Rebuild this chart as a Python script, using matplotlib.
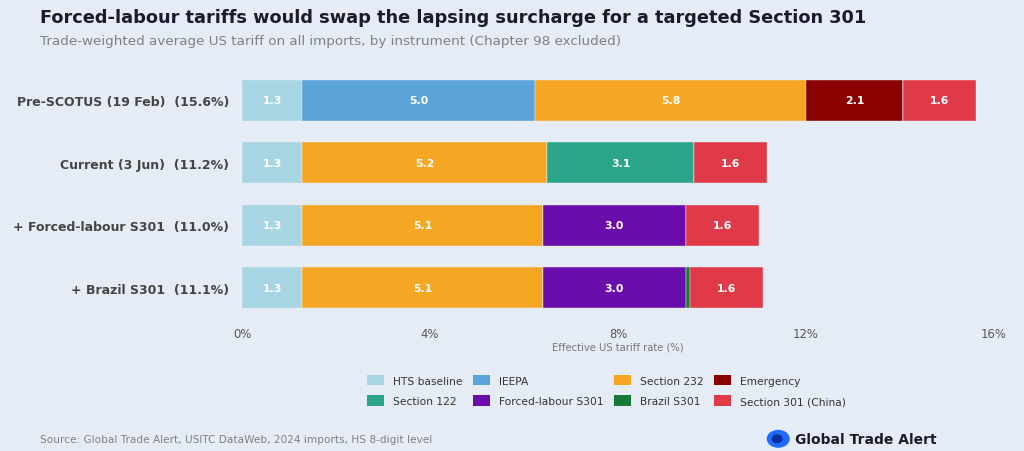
import matplotlib.pyplot as plt
from matplotlib.patches import Patch, Ellipse

plt.rcParams['font.family'] = ['DejaVu Sans']

# --- datos (puntos porcentuales) ---
escenarios = ['Pre-SCOTUS (19 Feb)', 'Current (3 Jun)', '+ Forced-labour S301', '+ Brazil S301']
hts = [1.28, 1.28, 1.28, 1.28]
ieepa = [4.96, 0, 0, 0]
s232 = [5.76, 5.22, 5.12, 5.12]
emergency = [2.06, 0, 0, 0]
s122 = [0, 3.12, 0, 0]
forced = [0, 0, 3.04, 3.04]
brazil = [0, 0, 0, 0.09]
s301 = [1.56, 1.56, 1.56, 1.56]

series = [
    ('HTS baseline', hts, '#A8D5E3'),
    ('IEEPA', ieepa, '#5BA4DA'),
    ('Section 232', s232, '#F5A623'),
    ('Emergency', emergency, '#8B0000'),
    ('Section 122', s122, '#2AA58A'),
    ('Forced-labour S301', forced, '#6A0DAD'),
    ('Brazil S301', brazil, '#167A36'),
    ('Section 301 (China)', s301, '#E03A49'),
]
xticks = [0, 4, 8, 12, 16]

fondo = '#E6ECF5'
fig = plt.figure(figsize=(10.24, 4.52), dpi=100, facecolor=fondo)
ax = fig.add_axes([0.2363, 0.292, 0.7344, 0.553], facecolor=fondo)

y = list(range(len(escenarios)))
left = [0.0] * len(escenarios)
for nombre, vals, color in series:
    ax.barh(y, vals, left=left, height=0.65, color=color, edgecolor=fondo, linewidth=0.3)
    for i, v in enumerate(vals):
        if v >= 0.5:
            ax.text(left[i] + v / 2, i, f"{v:.1f}", ha='center', va='center',
                    color='white', fontsize=7.8, fontweight='bold')
    left = [l + v for l, v in zip(left, vals)]

totales = left
ax.set_yticks(y)
ax.set_yticklabels([f"{e}  ({t:.1f}%)" for e, t in zip(escenarios, totales)],
                   fontsize=9.0, fontweight='bold', color='#444444')
ax.set_ylim(3.5, -0.5)
ax.set_xlim(0, 16)
ax.set_xticks(xticks)
ax.set_xticklabels([f"{t}%" for t in xticks], fontsize=8.4, color='#555555')
ax.tick_params(length=0)
ax.tick_params(axis='y', pad=9)
ax.tick_params(axis='x', pad=6)
for s in ax.spines.values():
    s.set_visible(False)
ax.set_xlabel('Effective US tariff rate (%)', fontsize=7.2, color='#777777', labelpad=1)

# leyenda (matplotlib rellena por columnas)
orden = [0, 4, 1, 5, 2, 6, 3, 7]
handles = [Patch(facecolor=series[k][2], label=series[k][0]) for k in orden]
fig.legend(handles=handles, ncol=4, loc='center', bbox_to_anchor=(0.592, 0.134),
           frameon=False, fontsize=7.7, handlelength=1.6, handleheight=1.2,
           columnspacing=0.95, handletextpad=0.85, labelspacing=0.9,
           labelcolor='#333333')

fig.text(0.039, 0.960, 'Forced-labour tariffs would swap the lapsing surcharge for a targeted Section 301',
         fontsize=12.8, fontweight='bold', color='#1b1b2f', va='center')
fig.text(0.039, 0.909, 'Trade-weighted average US tariff on all imports, by instrument (Chapter 98 excluded)',
         fontsize=9.7, color='#808080', va='center')
fig.text(0.039, 0.027, 'Source: Global Trade Alert, USITC DataWeb, 2024 imports, HS 8-digit level',
         fontsize=7.6, color='#808080', va='center')

# logo
fig.add_artist(Ellipse((0.760, 0.027), 23 / 1024, 18 / 452, transform=fig.transFigure,
                       facecolor='#1E6BFF', edgecolor='none'))
fig.add_artist(Ellipse((0.759, 0.027), 11 / 1024, 9 / 452, transform=fig.transFigure,
                       facecolor='#0A2E9E', edgecolor='none'))
fig.text(0.776, 0.027, 'Global Trade Alert', fontsize=10, fontweight='bold', color='#1b1b2f', va='center')

fig.savefig('out.png', dpi=100, facecolor=fondo)
